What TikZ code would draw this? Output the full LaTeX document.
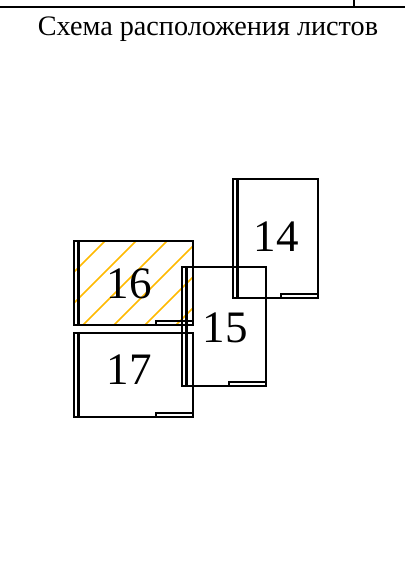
\documentclass[tikz,border=0pt]{standalone}
\usepackage{fontspec}
\setmainfont{Liberation Serif}
\begin{document}
\begin{tikzpicture}[x=1pt,y=-1pt,
  thinline/.style={line width=1.2pt},
  thickline/.style={line width=2.5pt},
  hatchline/.style={line width=1.7pt, draw={rgb,255:red,255;green,185;blue,0}},
  sheetlabel/.style={font=\fontsize{45}{45}\selectfont, inner sep=0pt},
  titletext/.style={font=\fontsize{28.2}{28.2}\selectfont, inner sep=0pt}]
\useasboundingbox (0,0) rectangle (405,573);
% top frame lines
\draw[thickline] (0,7) -- (405,7);
\draw[line width=1.6pt] (354,0) -- (354,7);
\node[titletext] (title) at (208,29) {Схема расположения листов};
% hatching of sheet 16
\begin{scope}
  \clip (74,241) rectangle (193,325);
  \foreach \s in {-41,-10,21,52,83,114,145,176,207} {
    \draw[hatchline] (\s,325) -- ++(120,-120);
  }
\end{scope}
% sheet macro
\newcommand{\drawsheet}[4]{%
  \draw[thinline] (#1,#2) rectangle (#3,#4);
  \draw[thickline] (#1+4.5,#2) rectangle (#3,#4);
  \draw[thinline] (#3-37,#4-4) rectangle (#3,#4);
}
\drawsheet{233}{179}{318}{298}
\drawsheet{182}{267}{266}{386}
\drawsheet{74}{241}{193}{325}
\drawsheet{74}{333}{193}{417}
\node[sheetlabel] (l14) at (276,237) {14};
\node[sheetlabel] (l16) at (129,284) {16};
\node[sheetlabel] (l15) at (225,328) {15};
\node[sheetlabel] (l17) at (129,370) {17};
\end{tikzpicture}
\end{document}
